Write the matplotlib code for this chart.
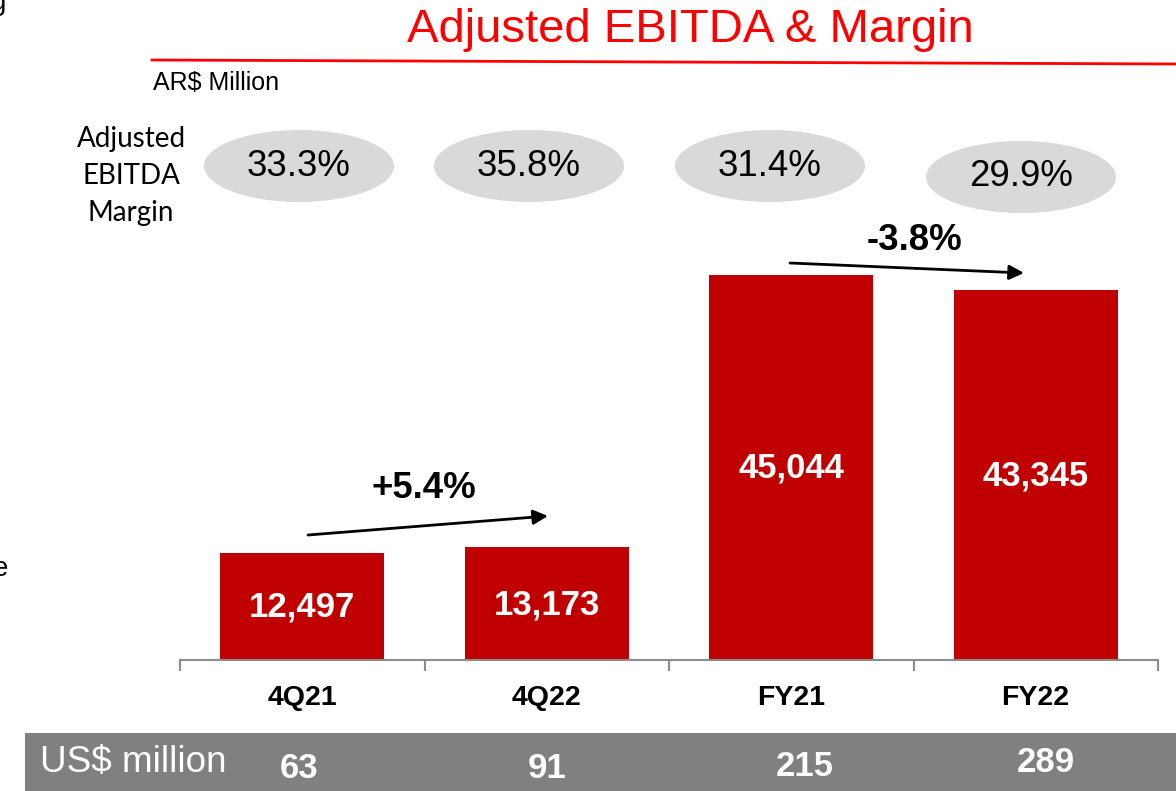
import matplotlib.pyplot as plt
from matplotlib.patches import Ellipse

categories = ["4Q21", "4Q22", "FY21", "FY22"]
ebitda_ars = [12497, 13173, 45044, 43345]
margins = ["33.3%", "35.8%", "31.4%", "29.9%"]
usd_million = ["63", "91", "215", "289"]
growth = ["+5.4%", "-3.8%"]

RED = "#c00000"
FONT = "Liberation Sans"

W, H = 1176, 791
fig = plt.figure(figsize=(W / 100, H / 100), dpi=100)

# bar axes: baseline at y=660 px, spans x 180..1158 px
px_per_unit = 385 / 45044
ax = fig.add_axes([180 / W, 1 - 660 / H, 978 / W, 660 / H])
ax.set_xlim(-0.5, 3.5)
ax.set_ylim(0, 660 / px_per_unit)
x = range(len(categories))
ax.bar(x, ebitda_ars, width=0.67, color=RED, zorder=2)
for s in ["top", "right", "left"]:
    ax.spines[s].set_visible(False)
ax.spines["bottom"].set_color("#8c8c8c")
ax.spines["bottom"].set_linewidth(1.5)
ax.set_yticks([])
ax.set_xticks([-0.5, 0.5, 1.5, 2.5, 3.5])
ax.set_xticklabels([])
ax.tick_params(axis="x", length=8, width=1.5, color="#8c8c8c", direction="out")
ax.patch.set_alpha(0)

# overlay in pixel coordinates for texts and decorations, on top of bars
ov = fig.add_axes([0, 0, 1, 1])
ov.set_xlim(0, W)
ov.set_ylim(H, 0)
ov.axis("off")
ov.set_zorder(5)

# bar value labels
label_y = [607, 605, 468, 476]
for i, v in enumerate(ebitda_ars):
    ov.text(302 + 244.5 * i, label_y[i], f"{v:,}", color="white", fontsize=25,
            fontweight="bold", ha="center", va="center", family=FONT)

# category labels
for i, c in enumerate(categories):
    ov.text(302 + 244.5 * i, 698, c, fontsize=20.5, fontweight="bold",
            ha="center", va="center", family=FONT)

# title and red rule
ov.text(690, 30, "Adjusted EBITDA & Margin", color="#ff0000", fontsize=34,
        ha="center", va="center", family=FONT)
ov.plot([152, 1176], [60, 64], color="#ff0000", lw=2)
ov.text(153, 83, "AR$ Million", fontsize=18, ha="left", va="center", family=FONT)

# margin label and ellipses
ov.text(131, 176, "Adjusted\nEBITDA\nMargin", fontsize=20, ha="center",
        va="center", family="Lato", linespacing=1.5)
ell_x = [299, 529, 770, 1021]
ell_y = [166, 166, 166, 177]
for i, m in enumerate(margins):
    ov.add_patch(Ellipse((ell_x[i], ell_y[i]), 190, 72, color="#d9d9d9", lw=0))
    ov.text(ell_x[i], ell_y[i], m, fontsize=26.4, ha="center", va="center",
            family=FONT)

# growth arrows
ov.annotate("", xy=(548, 516), xytext=(308, 535),
            arrowprops=dict(arrowstyle="-|>", color="black", lw=2,
                            mutation_scale=22, shrinkA=0, shrinkB=0))
ov.text(424, 488, growth[0], fontsize=26.4, fontweight="bold", ha="center",
        va="center", family=FONT)
ov.annotate("", xy=(1024, 273), xytext=(790, 263),
            arrowprops=dict(arrowstyle="-|>", color="black", lw=2,
                            mutation_scale=22, shrinkA=0, shrinkB=0))
ov.text(914, 240, growth[1], fontsize=26.4, fontweight="bold", ha="center",
        va="center", family=FONT)

# US$ band
ov.add_patch(plt.Rectangle((25, 733), W - 25, H - 733, color="#808080", lw=0))
ov.text(40, 763, "US$ million", color="white", fontsize=26.6, ha="left",
        va="center", family=FONT)
usd_x = [299, 547, 805, 1046]
usd_y = [768, 768, 766, 763]
for i, u in enumerate(usd_million):
    ov.text(usd_x[i], usd_y[i], u, color="white", fontsize=25,
            fontweight="bold", ha="center", va="center", family=FONT)

# cut-off text fragments at the left edge (they are cut in the reference too)
ov.text(-9, 3, "g", fontsize=20, ha="left", va="center", family=FONT)
ov.text(-7, 569, "e", fontsize=20, ha="left", va="center", family=FONT)

fig.savefig("out.png", dpi=100)
